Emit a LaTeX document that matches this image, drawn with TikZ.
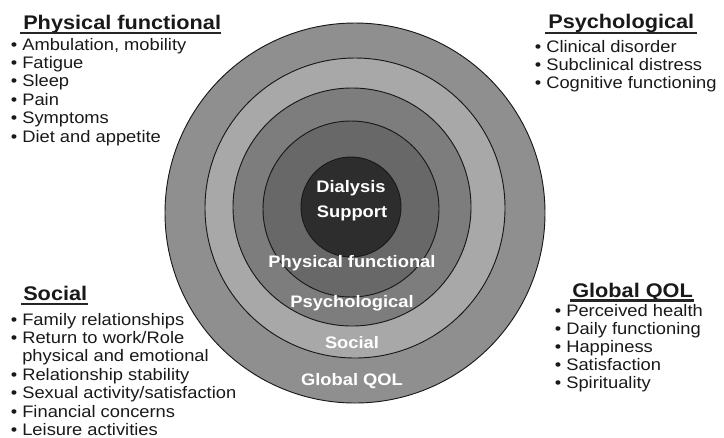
\documentclass[tikz,border=0pt]{standalone}
\usepackage{fontspec}
\setmainfont{Liberation Sans}[FakeStretch=1.1]
\usepackage{tikz}
\definecolor{globalgray}{HTML}{8F8F8F}
\definecolor{socialgray}{HTML}{A8A8A8}
\definecolor{psychgray}{HTML}{7D7D7D}
\definecolor{physgray}{HTML}{686868}
\definecolor{coregray}{HTML}{2D2D2D}
\newcommand{\bl}{\makebox[8.5pt][l]{•}}
\newcommand{\nb}{\hspace*{8.5pt}}

\begin{document}
\begin{tikzpicture}[x=0.75pt,y=-0.75pt,
	ring/.style={draw=black!90,line width=0.7pt},
	inlabel/.style={text=white,font=\fontsize{12.5}{14}\selectfont\bfseries,inner sep=0pt,anchor=base},
	head/.style={text=black!90,font=\fontsize{14.8}{17}\selectfont\bfseries,inner sep=0pt,anchor=base west},
	item/.style={text=black!90,font=\fontsize{12.5}{14}\selectfont,inner sep=0pt,anchor=base west},
	uline/.style={black!85,line width=1.8pt}]
		\useasboundingbox (0,0) rectangle (724,437);
		\coordinate (cglobal) at (355,213);
		\coordinate (csocial) at (355,208);
		\coordinate (cpsych) at (352,207);
		\coordinate (cphys) at (351,209);
		\coordinate (ccore) at (351,207);
		\filldraw[ring,fill=globalgray] (cglobal) circle (190);
		\filldraw[ring,fill=socialgray] (csocial) circle (150);
		\filldraw[ring,fill=psychgray] (cpsych) circle (119);
		\filldraw[ring,fill=physgray] (cphys) circle (88);
		\filldraw[ring,fill=coregray] (ccore) circle (50);
		\node[inlabel] (ldialysis) at (351,192) {Dialysis};
		\node[inlabel] (lsupport) at (352,217) {Support};
		\node[inlabel] (lphys) at (352,267) {Physical functional};
		\node[inlabel] (lpsych) at (352,307) {Psychological};
		\node[inlabel] (lsocial) at (352,348) {Social};
		\node[inlabel] (lglobal) at (352,385) {Global QOL};
		\node[head] (hphys) at (23,29) {Physical functional};
		\draw[uline] ([shift={(-3,4)}]hphys.base west) -- ([shift={(0,4)}]hphys.base east);
		\foreach \txt [count=\i] in {{Ambulation, mobility},Fatigue,Sleep,Pain,Symptoms,Diet and appetite}
			\node[item] (phys\i) at (10.7,{50+18.4*(\i-1)}) {\bl\txt};
		\node[head] (hpsych) at (548,28) {Psychological};
		\draw[uline] ([shift={(-3,5)}]hpsych.base west) -- ([shift={(2,5)}]hpsych.base east);
		\foreach \txt [count=\i] in {Clinical disorder,Subclinical distress,Cognitive functioning}
			\node[item] (psych\i) at (534.7,{52.5+18*(\i-1)}) {\bl\txt};
		\node[head] (hsocial) at (23,300) {Social};
		\draw[uline] ([shift={(-2,4)}]hsocial.base west) -- ([shift={(1,4)}]hsocial.base east);
		\foreach \txt [count=\i] in {\bl Family relationships,\bl Return to work/Role,\nb physical and emotional,\bl Relationship stability,\bl Sexual activity/satisfaction,\bl Financial concerns,\bl Leisure activities}
			\node[item] (social\i) at (10.7,{325+18.4*(\i-1)}) {\txt};
		\node[head] (hglobal) at (572,297) {Global QOL};
		\draw[uline] ([shift={(-2,3.5)}]hglobal.base west) -- ([shift={(1,3.5)}]hglobal.base east);
		\foreach \txt [count=\i] in {Perceived health,Daily functioning,Happiness,Satisfaction,Spirituality}
			\node[item] (global\i) at (554.7,{316+18.2*(\i-1)}) {\bl\txt};
	\end{tikzpicture}
\end{document}
